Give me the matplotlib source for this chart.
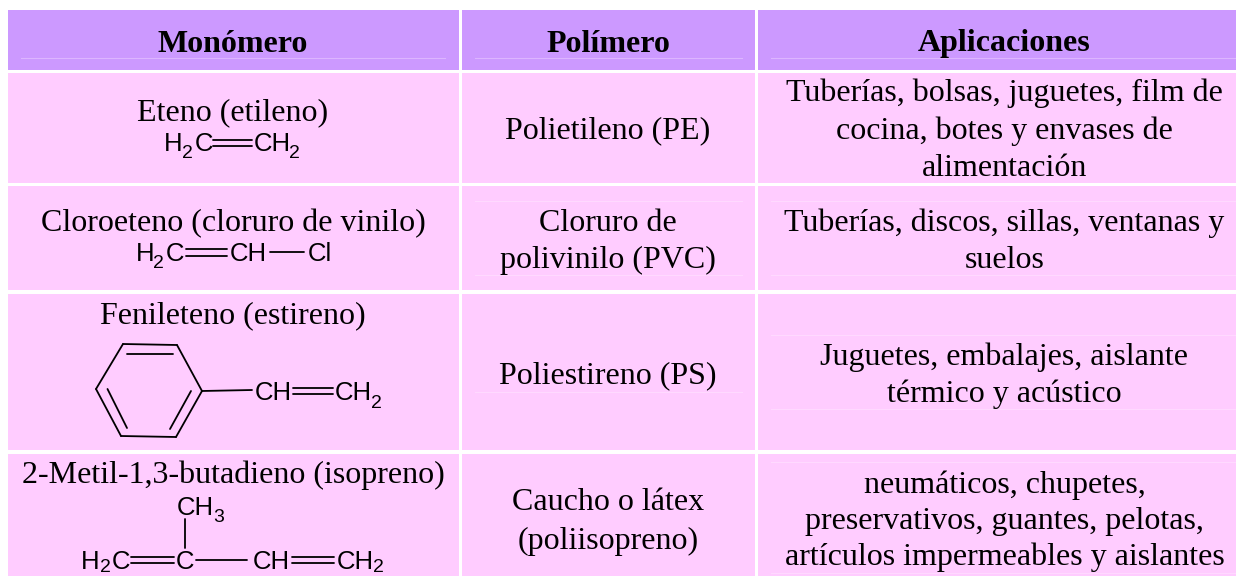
#!/usr/bin/env python3
# -*- coding: utf-8 -*-
import matplotlib
matplotlib.use('Agg')
import matplotlib.pyplot as plt
from matplotlib.patches import Rectangle

W, H = 1236, 576
SERIF = 'Liberation Serif'
SANS = 'Liberation Sans'

headers = ['Monómero', 'Polímero', 'Aplicaciones']
monomers = ['Eteno (etileno)', 'Cloroeteno (cloruro de vinilo)',
            'Fenileteno (estireno)', '2-Metil-1,3-butadieno (isopreno)']
polymers = [['Polietileno (PE)'], ['Cloruro de', 'polivinilo (PVC)'],
            ['Poliestireno (PS)'], ['Caucho o látex', '(poliisopreno)']]
uses = [['Tuberías, bolsas, juguetes, film de', 'cocina, botes y envases de', 'alimentación'],
        ['Tuberías, discos, sillas, ventanas y', 'suelos'],
        ['Juguetes, embalajes, aislante', 'térmico y acústico'],
        ['neumáticos, chupetes,', 'preservativos, guantes, pelotas,', 'artículos impermeables y aislantes']]

col_x = [(8, 459), (462, 755), (758, 1236)]
row_y = [(73, 182.5), (186, 289.5), (293.5, 450), (454, 576)]
head_y = (10, 69.5)
col_center = [233, 608, 1004.5]

monomer_base = [120, 231, 323.5, 483.5]
polymer_base = [[138.5], [231, 268], [383.5], [510, 549]]
uses_base = [[101, 138.5, 176], [231, 268], [365, 402], [493, 529, 565]]

# faint lines inside the cells: x0, x1, y
faint = [(21, 445, 58), (475, 742, 58), (771, 1237, 58),
         (475, 742, 201), (771, 1237, 201), (475, 742, 275), (771, 1237, 275),
         (475, 742, 392), (771, 1237, 335), (771, 1237, 409),
         (771, 1237, 462), (771, 1237, 573)]

# formula letters: text, left x, centre y of the capitals
formula_txt = [('H', 164, 142), ('C', 195, 142), ('CH', 254, 142),
               ('H', 135.5, 252), ('C', 166, 252), ('CH', 230, 252), ('Cl', 307.5, 252),
               ('CH', 255, 391), ('CH', 335, 391),
               ('CH', 177, 506), ('H', 81, 560), ('C', 112, 560),
               ('C', 176, 560), ('CH', 253, 560), ('CH', 337, 560)]
# subscripts: text, left x, centre y of the capitals next to them
formula_sub = [('2', 182, 142), ('2', 289.5, 142), ('2', 153, 252), ('2', 371, 391),
               ('3', 213, 506), ('2', 99.6, 556), ('2', 372.5, 556)]
# bonds: x0, y0, x1, y1
bonds = [(213, 139.5, 252, 139.5), (213, 146, 252, 146),
         (186, 248.5, 227, 248.5), (186, 255.5, 227, 255.5), (270, 252, 304, 252),
         (123, 344, 177, 345), (177, 345, 202, 391), (202, 391, 176, 437),
         (176, 437, 121, 436), (121, 436, 96, 389), (96, 389, 123, 344),
         (127, 354, 173, 354), (191, 391, 170, 429), (107.5, 389, 127, 428),
         (202, 391, 252, 390), (293, 388, 333, 388), (293, 394, 333, 394),
         (185, 519, 185, 548), (131, 557, 174, 557), (131, 563, 174, 563),
         (196, 560, 247, 560), (292, 557, 334, 557), (292, 563, 334, 563)]

fig = plt.figure(figsize=(W / 100, H / 100), dpi=100)
ax = fig.add_axes([0, 0, 1, 1])
ax.set_xlim(0, W)
ax.set_ylim(H, 0)
ax.axis('off')

for x0, x1 in col_x:
    ax.add_patch(Rectangle((x0, head_y[0]), x1 - x0, head_y[1] - head_y[0], color='#CC99FF', lw=0))
    for y0, y1 in row_y:
        ax.add_patch(Rectangle((x0, y0), x1 - x0, y1 - y0, color='#FFCCFF', lw=0))

for x0, x1, y in faint:
    col = '#DDB5FF' if y < 70 else '#FFD9FF'
    ax.plot([x0, x1], [y, y], color=col, lw=0.8)

for i, h in enumerate(headers):
    ax.text(col_center[i], 51.5, h, family=SERIF, weight='bold', size=23, ha='center', va='baseline')

for i in range(4):
    ax.text(col_center[0], monomer_base[i], monomers[i], family=SERIF, size=23, ha='center', va='baseline')
    for s, y in zip(polymers[i], polymer_base[i]):
        ax.text(col_center[1], y, s, family=SERIF, size=23, ha='center', va='baseline')
    for s, y in zip(uses[i], uses_base[i]):
        ax.text(col_center[2], y, s, family=SERIF, size=23, ha='center', va='baseline')

for s, x, y in formula_txt:
    ax.text(x, y + 9.2, s, family=SANS, size=18.5, ha='left', va='baseline')
for s, x, y in formula_sub:
    ax.text(x, y + 16.5, s, family=SANS, size=14, ha='left', va='baseline')

for x0, y0, x1, y1 in bonds:
    ax.plot([x0, x1], [y0, y1], color='black', lw=1.3, solid_capstyle='round')

fig.savefig('out.png', dpi=100, facecolor='white')
